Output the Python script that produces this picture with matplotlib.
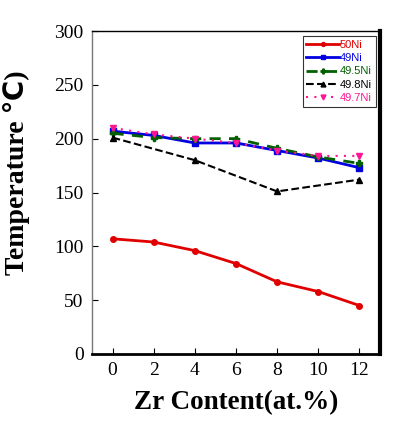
import matplotlib
matplotlib.use("Agg")
import matplotlib.pyplot as plt

# Zr content (at.%)
zr = [0, 2, 4, 6, 8, 10, 12]
zr_498 = [0, 4, 8, 12]

t_50ni = [107, 104, 96, 84, 67, 58, 45]
t_49ni = [207, 203, 196, 196, 189, 182, 173]
t_495ni = [205, 201, 200, 200, 191, 183, 177]
t_498ni = [201, 180, 151, 162]
t_497ni = [210, 204, 200, 196, 189, 184, 184]

labels = ["50Ni", "49Ni", "49.5Ni", "49.8Ni", "49.7Ni"]
colors = ["#e00000", "#0000e0", "#006000", "#000000", "#ff1493"]

fig = plt.figure(figsize=(4.01, 4.24), dpi=100)
ax = fig.add_axes([92 / 401, 1 - 354 / 424, 288 / 401, 323 / 424])

ax.plot(zr, t_50ni, color=colors[0], lw=2, marker="o", ms=4, label=labels[0])
ax.plot(zr, t_49ni, color=colors[1], lw=2, marker="s", ms=5, label=labels[1])
ax.plot(zr, t_495ni, color=colors[2], lw=2, ls=(0, (4, 3)), marker="P", ms=5, label=labels[2])
ax.plot(zr_498, t_498ni, color=colors[3], lw=1.5, ls="--", marker="^", ms=5, label=labels[3])
ax.plot(zr, t_497ni, color=colors[4], lw=1.5, ls=(0, (1, 3)), marker="v", ms=5, label=labels[4])

ax.set_xlim(-1, 13)
ax.set_ylim(0, 300)
ax.set_xticks(zr)
ax.set_yticks(range(0, 301, 50))
ax.tick_params(direction="in", length=4, labelsize=14, pad=6)
for lab in ax.get_xticklabels() + ax.get_yticklabels():
    lab.set_family("Liberation Serif")

ax.spines["left"].set_color("#777777")
ax.spines["left"].set_linewidth(1)
ax.spines["bottom"].set_linewidth(2)
ax.spines["right"].set_linewidth(3)
ax.spines["top"].set_linewidth(1)

ax.set_xlabel("Zr Content(at.%)", family="Liberation Serif", fontweight="bold", fontsize=19.5, labelpad=8)
ax.set_ylabel("Temperature \u2103)", family=["Liberation Serif", "DejaVu Sans"], fontweight="bold", fontsize=20)
ax.yaxis.set_label_coords(-0.215, 0.56)

leg = ax.legend(loc="upper right", bbox_to_anchor=(0.985, 0.985), fontsize=8, frameon=True,
                fancybox=False, edgecolor="black", handlelength=2.9, handletextpad=0.1,
                labelspacing=0.3, borderpad=0.35, borderaxespad=0.0, markerscale=0.7)
leg.get_frame().set_linewidth(0.8)
for txt, c in zip(leg.get_texts(), colors):
    txt.set_color(c)
    txt.set_family("Liberation Sans")

fig.savefig("out.png", dpi=100)
